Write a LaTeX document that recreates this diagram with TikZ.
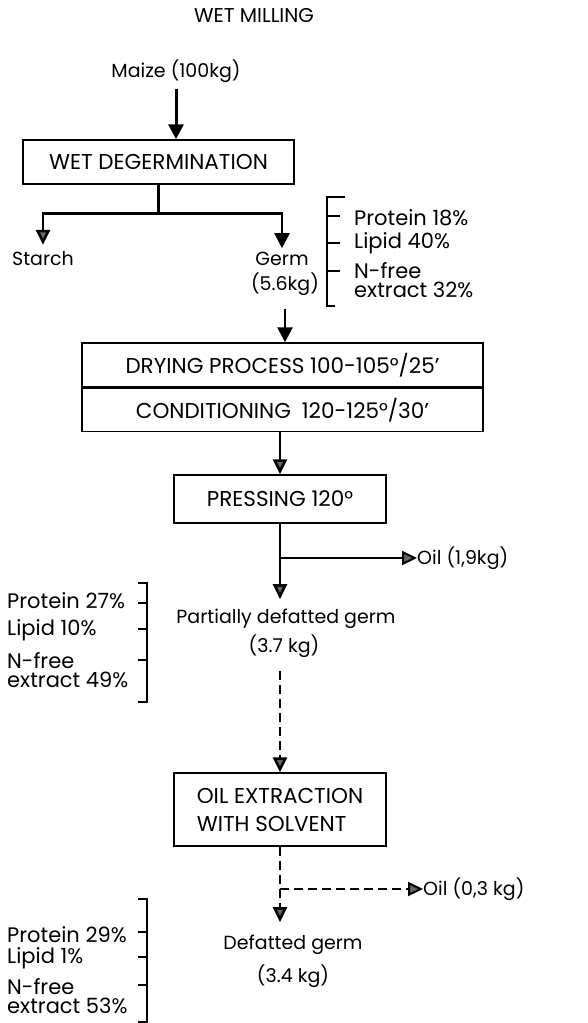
\documentclass[tikz,border=0pt]{standalone}
\usepackage{fontspec}
\setmainfont{Poppins}
\usetikzlibrary{arrows.meta, positioning, calc}

\begin{document}
\begin{tikzpicture}[x=1pt, y=-1pt,
    every node/.style={font=\fontsize{19}{27}\selectfont, inner sep=0pt},
    block/.style={rectangle, draw, line width=1.4pt, align=left, font=\fontsize{21.5}{28}\selectfont},
    lbl/.style={outer sep=7pt},
    comp/.style={anchor=west, align=left, font=\fontsize{21}{19}\selectfont},
    arr/.style={-{Triangle[length=15pt, width=14pt, fill=gray!80!black]}, line width=2.6pt},
    barr/.style={arr, -{Triangle[length=15pt, width=15pt, fill=black]}},
    darr/.style={arr, dash pattern=on 9pt off 5pt},
    brk/.style={line width=1.2pt}
]
\useasboundingbox (0,0) rectangle (588,1023);

% top part
\node[font=\fontsize{20}{20}\selectfont] (title) at (254,16) {WET MILLING};
\node[lbl] (maize) at (176,71) {Maize (100kg)};
\node[block, minimum width=271pt, minimum height=44pt] (degerm) at (158.5,162) {WET DEGERMINATION};
\node[lbl] (starch) at (43,259) {Starch};
\node[lbl, outer sep=4pt] (germ) at (282,259) {Germ};
\node[lbl, outer sep=14pt] (germw) at (285,284) {(5.6kg)};

% composition of germ
\node[comp] (p1) at (354,218) {Protein 18\%};
\node[comp] (l1) at (354,243) {Lipid 40\%};
\node[comp] (n1) at (354,280) {N-free\\extract 32\%};
\draw[brk] (345,197) -- (327,197) -- (327,306) -- (335,306);
\foreach \y in {216,243,271}
    \draw[brk] (327,\y) -- (340,\y);

% drying and pressing
\node[block, minimum width=401pt, minimum height=44pt] (dry) at (282.5,365) {DRYING PROCESS 100-105°/25'};
\node[block, minimum width=401pt, minimum height=43pt, below=0pt of dry] (cond) {CONDITIONING\enspace 120-125°/30'};
\node[block, minimum width=212pt, minimum height=48pt] (press) at (280,499) {PRESSING 120°};
\node[anchor=west] (oil1) at (417,558) {Oil (1,9kg)};
\node[lbl, outer sep=10pt] (pdg) at (286,619) {Partially defatted germ};
\node[lbl, outer sep=14pt] (pdgw) at (284,646) {(3.7 kg)};

% composition of partially defatted germ
\node[comp] (p2) at (7,601) {Protein 27\%};
\node[comp] (l2) at (7,630) {Lipid 10\%};
\node[comp] (n2) at (7,670) {N-free\\extract 49\%};
\draw[brk] (138,583) -- (147,583) -- (147,702) -- (138,702);
\foreach \y in {603,629,660}
    \draw[brk] (138,\y) -- (147,\y);

% extraction
\node[block, minimum width=212pt, minimum height=73pt] (oilx) at (280,809.5) {OIL EXTRACTION\\WITH SOLVENT};
\node[anchor=west] (oil2) at (423,889) {Oil (0,3 kg)};
\node[lbl, outer sep=13pt] (dg) at (293,945) {Defatted germ};
\node (dgw) at (293,976) {(3.4 kg)};

% composition of defatted germ
\node[comp] (p3) at (7,935) {Protein 29\%};
\node[comp] (l3) at (7,958) {Lipid 1\%};
\node[comp] (n3) at (7,996.5) {N-free\\extract 53\%};
\draw[brk] (138,899) -- (147,899) -- (147,1022) -- (138,1022);
\foreach \y in {932,957,985}
    \draw[brk] (138,\y) -- (147,\y);

% connectors
\coordinate (split) at ($(degerm.south)+(0,29)$);
\coordinate (tap1) at (press.south |- oil1.west);
\coordinate (tap2) at (oilx.south |- oil2.west);

\draw[barr, line width=3pt] (maize) -- (maize |- degerm.north);
\draw[line width=2.6pt] (degerm.south) -- (split);
\draw[arr] (split) -| (starch.north);
\draw[barr] (split) -| (germ.north);
\draw[barr] (germw.south) -- (germw.south |- dry.north);
\draw[arr] (cond.south -| press.north) -- (press.north);
\draw[arr] (press.south) -- (press.south |- pdg.north);
\draw[arr, line width=2pt] (tap1) -- (oil1.west);
\draw[darr] (oilx.north |- pdgw.south) -- (oilx.north);
\draw[darr] (oilx.south) -- (oilx.south |- dg.north);
\draw[darr, line width=2pt] (tap2) -- (oil2.west);
\end{tikzpicture}
\end{document}
